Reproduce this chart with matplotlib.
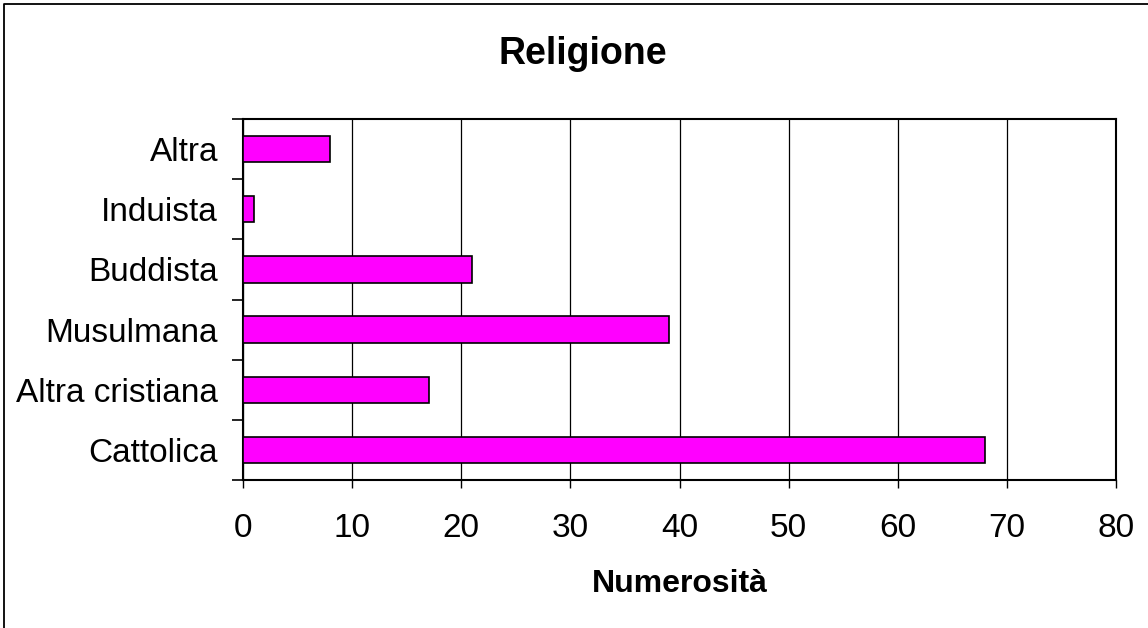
import matplotlib.pyplot as plt
from matplotlib.lines import Line2D

categories = ["Cattolica", "Altra cristiana", "Musulmana", "Buddista", "Induista", "Altra"]
counts = [68, 17, 39, 21, 1, 8]
x_ticks = [0, 10, 20, 30, 40, 50, 60, 70, 80]

plt.rcParams["font.family"] = ["Liberation Sans", "DejaVu Sans"]

W, H = 1148, 628
fig = plt.figure(figsize=(W / 100, H / 100), dpi=100)
ax = fig.add_axes([243 / W, 1 - 480 / H, 873 / W, 361 / H])

# outer frame: only the left and top edges are visible in the picture
fig.lines.append(Line2D([4 / W, 4 / W, 1], [0, 1 - 4 / H, 1 - 4 / H],
                        transform=fig.transFigure, color="black", linewidth=1.3))

pos = list(range(len(categories)))
ax.barh(pos, counts, height=0.435, color="#ff00ff", edgecolor="black",
        linewidth=1.2, zorder=3)

ax.set_xlim(0, 80)
ax.set_ylim(-0.5, len(categories) - 0.5)
ax.set_xticks(x_ticks)
ax.set_xticklabels([str(t) for t in x_ticks], fontsize=24)
ax.grid(axis="x", color="black", linewidth=0.9, zorder=0)

# category labels centred between boundary ticks
ax.set_yticks(pos)
ax.set_yticklabels(categories, fontsize=24)
ax.tick_params(axis="y", length=0, pad=18)
ax.set_yticks([p - 0.5 for p in pos] + [len(categories) - 0.5], minor=True)
ax.tick_params(axis="y", which="minor", length=8, width=1.2, direction="out")
ax.tick_params(axis="x", length=6, width=1, direction="out", pad=18)

for side in ax.spines.values():
    side.set_linewidth(1.5)

ax.set_xlabel("Numerosità", fontsize=23, fontweight="bold", labelpad=18)
fig.text(583 / W, 1 - 54 / H, "Religione", ha="center", va="center",
         fontsize=27, fontweight="bold")

fig.savefig("out.png", dpi=100)
